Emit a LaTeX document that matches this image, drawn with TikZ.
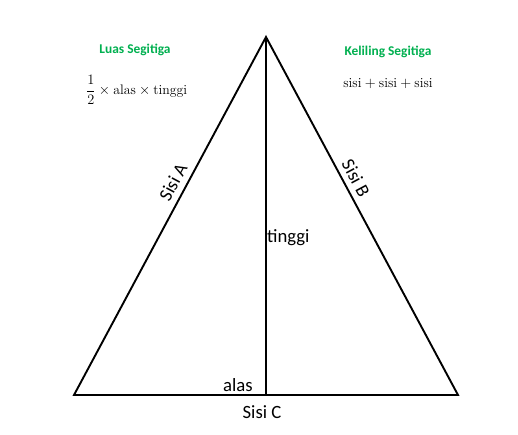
\documentclass[tikz,border=0pt]{standalone}
\usepackage{fontspec}
\newfontfamily\calib{Carlito}
\definecolor{titlegreen}{HTML}{00B050}
\begin{document}
\begin{tikzpicture}[x=1pt,y=-1pt,
  edge/.style={line width=1.9pt,line join=miter},
  lbl/.style={font=\calib\fontsize{18.7}{20}\selectfont,inner sep=0pt},
  ttl/.style={font=\calib\bfseries\fontsize{13.4}{15}\selectfont,text=titlegreen,inner sep=0pt},
  frm/.style={font=\fontsize{13.8}{15}\selectfont,inner sep=0pt}]
\useasboundingbox[fill=white] (0,0) rectangle (518,434);
\coordinate (T) at (266,37);
\coordinate (L) at (74,395);
\coordinate (R) at (458,395);
\coordinate (H) at (266,395);
\draw[edge] (T) -- (L) -- (R) -- cycle;
\draw[edge] (T) -- (H);
\node[ttl] (luas) at (135,50) {Luas Segitiga};
\node[frm,anchor=west] (luasf) at (86,90) {$\displaystyle\frac{1}{2}\times\mathrm{alas}\times\mathrm{tinggi}$};
\node[ttl] (kel) at (388,52) {Keliling Segitiga};
\node[frm] (kelf) at (388,84) {$\mathrm{sisi}+\mathrm{sisi}+\mathrm{sisi}$};
\node[lbl] (alas) at (238,385) {alas};
\node[lbl] (sisic) at (262,412) {Sisi C};
\node[lbl,anchor=west] (tinggi) at (267,238) {tinggi};
\node[lbl,rotate=61.8] (sisia) at (173,182) {Sisi A};
\node[lbl,rotate=-61.8] (sisib) at (356,178) {Sisi B};
\end{tikzpicture}
\end{document}
